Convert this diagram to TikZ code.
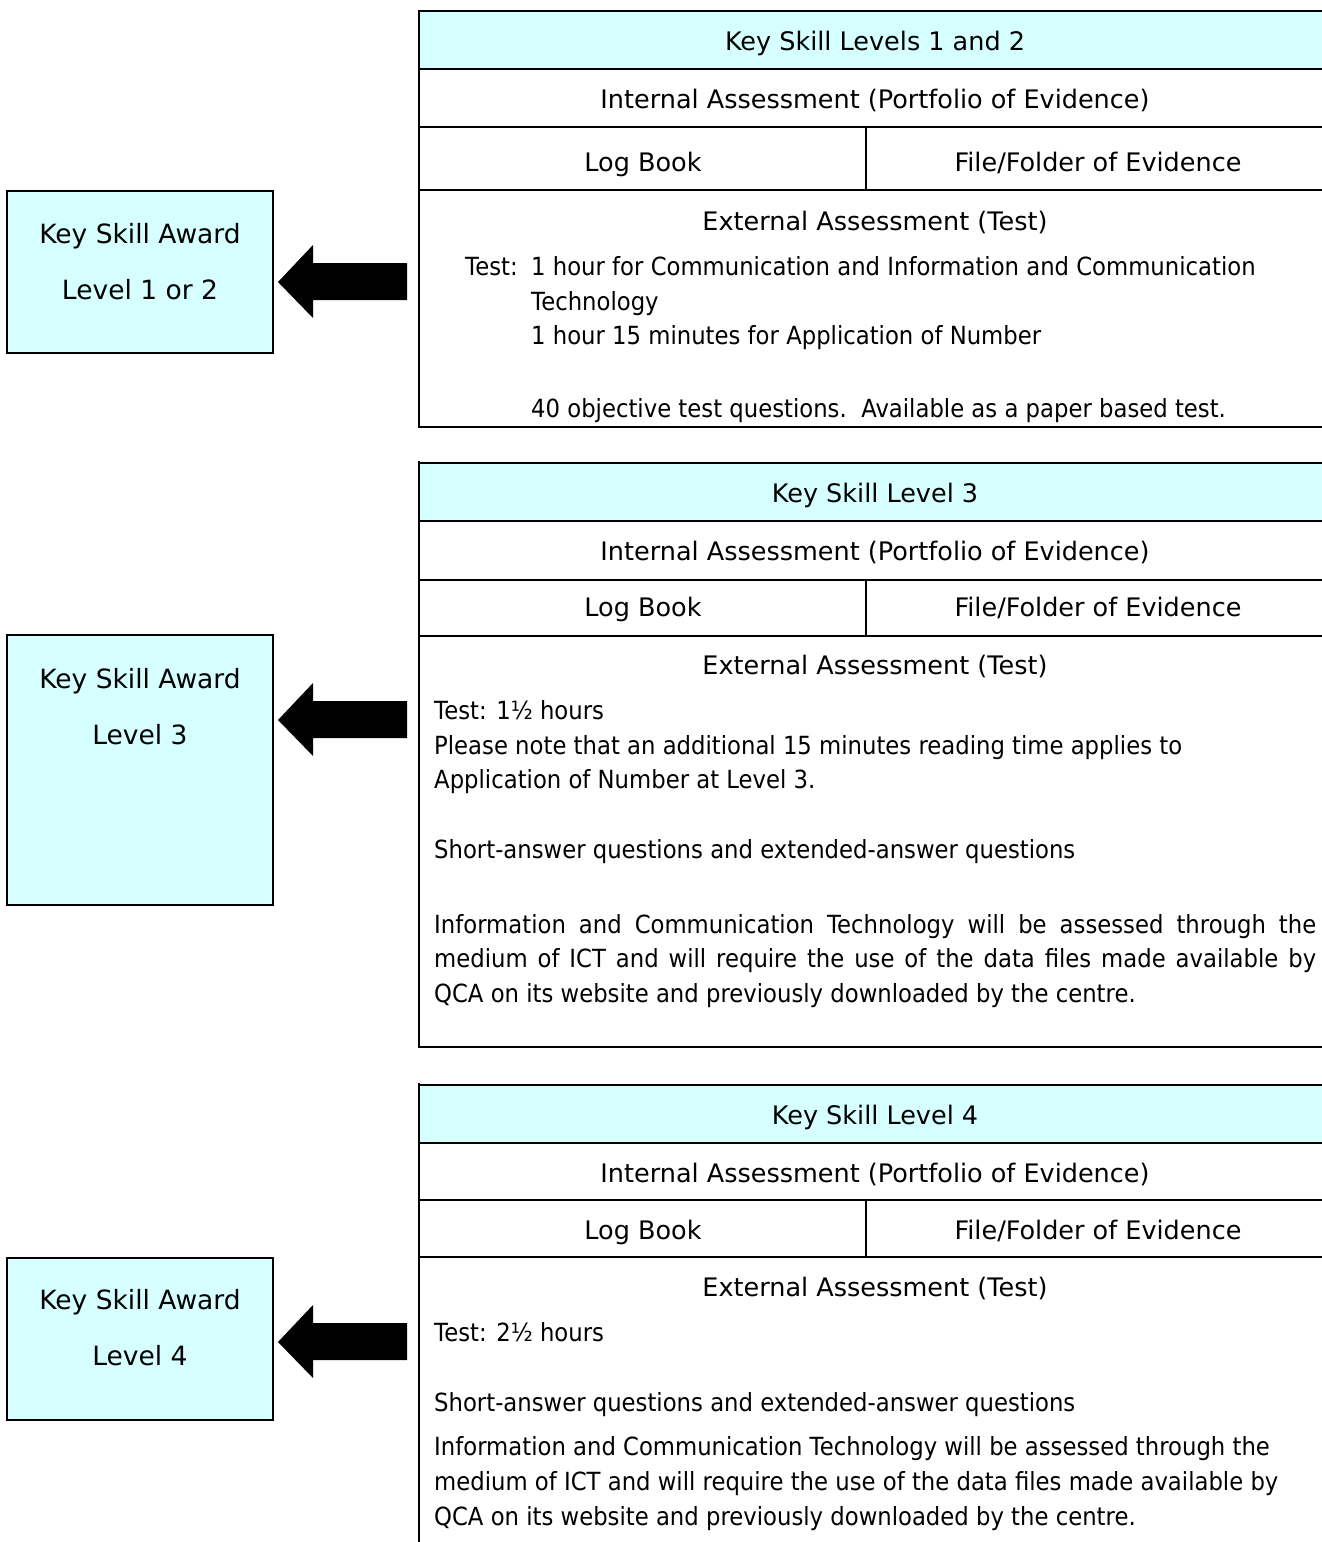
\documentclass[tikz,border=0pt]{standalone}
\usepackage{fontspec}
\setmainfont{DejaVu Sans}
\newfontfamily\bodyfont[FakeStretch=0.91]{DejaVu Sans}
\definecolor{cy}{RGB}{214,255,255}
\begin{document}
\begin{tikzpicture}[x=1pt,y=-1pt,
  txt/.style={inner sep=0pt, text height=18pt, text depth=0pt, font=\fontsize{25.5}{34}\selectfont},
  boxtxt/.style={inner sep=0pt, text height=19pt, text depth=0pt, font=\fontsize{26.5}{34}\selectfont},
  txtw/.style={inner sep=0pt, text height=18pt, text depth=0pt, anchor=west, font=\bodyfont\fontsize{25}{34}\selectfont},
  rule/.style={line width=2pt},
  thin/.style={line width=1.2pt},
  award/.style={draw, line width=2pt, fill=cy, minimum width=266pt, inner sep=0pt},
  bigarrow/.style={fill=black}]
\useasboundingbox (0,0) rectangle (1322,1542);
\clip (0,0) rectangle (1322,1542);

% ---------- Table 1 ----------
\fill[cy] (419,11) rectangle (1322,69);
\draw[rule] (419,11) -- (1322,11);
\draw[rule] (419,69) -- (1322,69);
\draw[rule] (419,127) -- (1322,127);
\draw[rule] (419,190) -- (1322,190);
\draw[rule] (419,427) -- (1322,427);
\draw[rule] (419,10) -- (419,428);
\draw[thin] (866,127) -- (866,190);
\node[txt] (h1) at (875,41) {Key Skill Levels 1 and 2};
\node[txt] (i1) at (875,99) {Internal Assessment (Portfolio of Evidence)};
\node[txt] (l1) at (643,162) {Log Book};
\node[txt] (f1) at (1098,162) {File/Folder of Evidence};
\node[txt] (e1) at (875,221) {External Assessment (Test)};
\node[txtw] (t1a) at (465,266) {Test:};
\node[txtw] (t1b) at (531,266) {1 hour for Communication and Information and Communication};
\node[txtw] (t1c) at (531,301) {Technology};
\node[txtw] (t1d) at (531,335) {1 hour 15 minutes for Application of Number};
\node[txtw] (t1e) at (531,408) {40 objective test questions.\ \ Available as a paper based test.};

% ---------- Table 2 ----------
\fill[cy] (419,463) rectangle (1322,521);
\draw[rule] (419,463) -- (1322,463);
\draw[rule] (419,521) -- (1322,521);
\draw[rule] (419,580) -- (1322,580);
\draw[rule] (419,636) -- (1322,636);
\draw[rule] (419,1047) -- (1322,1047);
\draw[rule] (419,461) -- (419,1048);
\draw[thin] (866,580) -- (866,636);
\node[txt] (h2) at (875,493) {Key Skill Level 3};
\node[txt] (i2) at (875,551) {Internal Assessment (Portfolio of Evidence)};
\node[txt] (l2) at (643,607) {Log Book};
\node[txt] (f2) at (1098,607) {File/Folder of Evidence};
\node[txt] (e2) at (875,665) {External Assessment (Test)};
\node[txtw] (t2a) at (434,710) {Test: 1½ hours};
\node[txtw] (t2b) at (434,745) {Please note that an additional 15 minutes reading time applies to};
\node[txtw] (t2c) at (434,779) {Application of Number at Level 3.};
\node[txtw] (t2d) at (434,849) {Short-answer questions and extended-answer questions};
\node[txtw] (t2e) at (434,924) {\makebox[882pt][s]{Information and Communication Technology will be assessed through the}};
\node[txtw] (t2f) at (434,958) {\makebox[882pt][s]{medium of ICT and will require the use of the data files made available by}};
\node[txtw] (t2g) at (434,993) {QCA on its website and previously downloaded by the centre.};

% ---------- Table 3 ----------
\fill[cy] (419,1085) rectangle (1322,1143);
\draw[rule] (419,1085) -- (1322,1085);
\draw[rule] (419,1143) -- (1322,1143);
\draw[rule] (419,1200) -- (1322,1200);
\draw[rule] (419,1257) -- (1322,1257);
\draw[rule] (419,1083) -- (419,1545);
\draw[thin] (866,1200) -- (866,1257);
\node[txt] (h3) at (875,1115) {Key Skill Level 4};
\node[txt] (i3) at (875,1173) {Internal Assessment (Portfolio of Evidence)};
\node[txt] (l3) at (643,1230) {Log Book};
\node[txt] (f3) at (1098,1230) {File/Folder of Evidence};
\node[txt] (e3) at (875,1287) {External Assessment (Test)};
\node[txtw] (t3a) at (434,1332) {Test: 2½ hours};
\node[txtw] (t3b) at (434,1402) {Short-answer questions and extended-answer questions};
\node[txtw] (t3c) at (434,1446) {Information and Communication Technology will be assessed through the};
\node[txtw] (t3d) at (434,1481) {medium of ICT and will require the use of the data files made available by};
\node[txtw] (t3e) at (434,1516) {QCA on its website and previously downloaded by the centre.};

% ---------- Award boxes ----------
\node[award, minimum height=162pt] (b1) at (140,272) {};
\node[boxtxt] at (140,234) {Key Skill Award};
\node[boxtxt] at (140,290) {Level 1 or 2};
\node[award, minimum height=270pt] (b2) at (140,770) {};
\node[boxtxt] at (140,679) {Key Skill Award};
\node[boxtxt] at (140,735) {Level 3};
\node[award, minimum height=162pt] (b3) at (140,1339) {};
\node[boxtxt] at (140,1300) {Key Skill Award};
\node[boxtxt] at (140,1356) {Level 4};

% ---------- Arrows ----------
\coordinate (a1) at (278,282);
\coordinate (a2) at (278,720);
\coordinate (a3) at (278,1342);
\foreach \a in {a1,a2,a3}
  \fill[bigarrow] (\a) -- ++(35,-37) -- ++(0,18) -- ++(94,0) -- ++(0,37) -- ++(-94,0) -- ++(0,18) -- cycle;
\end{tikzpicture}
\end{document}
